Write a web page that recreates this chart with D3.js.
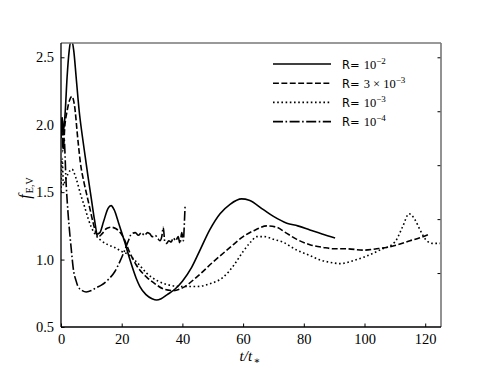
<!DOCTYPE html>
<html>
<head>
<meta charset="utf-8">
<script src="https://cdn.jsdelivr.net/npm/d3@7"></script>
<style>
  body { margin: 0; background: #fff; }
  .tick text { font-family: "Liberation Serif", "DejaVu Serif", serif; font-size: 14.5px; fill: #000; }
</style>
</head>
<body>
<svg id="vis" width="490" height="368"></svg>
<script>
// series: [t/t*, f_E,V]
var serR1e2 = [[0,1.9],[0.4,2.05],[0.8,1.95],[1.4,2.1],[2,2.35],[2.7,2.55],[3.4,2.63],[4.2,2.55],[5,2.35],[6,2.1],[7,1.92],[8,1.76],[9,1.6],[10,1.45],[11,1.3],[12,1.19],[12.8,1.2],[14,1.28],[15.5,1.38],[16.5,1.4],[17.5,1.37],[19,1.27],[20,1.2],[21,1.13],[22.7,1.0],[24.8,0.86],[26,0.8],[28,0.74],[30,0.71],[31.5,0.7],[33,0.71],[35,0.74],[37.5,0.78],[40,0.84],[43,0.94],[45.8,1.07],[49,1.22],[52.4,1.34],[55.7,1.41],[59.5,1.45],[62,1.44],[66.7,1.37],[70,1.32],[74.4,1.27],[78,1.25],[82,1.22],[86,1.19],[90.3,1.16]];
var serR3e3 = [[0,1.95],[0.4,2.05],[0.8,1.85],[1.3,2.0],[2,2.1],[2.8,2.18],[3.6,2.21],[4.4,2.15],[5.6,1.88],[6.5,1.7],[7.5,1.58],[8.5,1.48],[9.5,1.38],[10.5,1.28],[11.5,1.2],[12.3,1.17],[13.5,1.19],[15,1.23],[16.6,1.24],[18,1.23],[19.5,1.2],[20.4,1.17],[22.7,1.05],[24.8,0.96],[28.2,0.87],[31,0.82],[34,0.78],[37,0.77],[40,0.79],[44.7,0.87],[50,0.98],[55.7,1.09],[60,1.17],[64,1.22],[67.8,1.25],[71,1.24],[74,1.2],[77.7,1.15],[82,1.11],[86.4,1.09],[90,1.08],[94,1.08],[99.6,1.07],[104,1.08],[107.3,1.09],[111,1.11],[115,1.14],[118,1.16],[121.6,1.19]];
var serR1e3 = [[0,1.5],[0.4,1.75],[0.8,1.55],[1.3,1.58],[2.2,1.63],[3.6,1.67],[5,1.6],[6.5,1.48],[7.8,1.39],[9,1.3],[10,1.24],[11.5,1.18],[13.3,1.14],[15.5,1.11],[17.7,1.09],[20,1.06],[22,1.04],[25.4,0.97],[28.2,0.9],[32,0.84],[35.9,0.81],[40,0.8],[44.7,0.8],[49,0.82],[53.5,0.87],[57,0.96],[60,1.06],[62.5,1.13],[64.5,1.17],[67,1.17],[70,1.15],[73,1.13],[77.7,1.07],[82,1.03],[85,1.0],[88.6,0.98],[92,0.97],[96,0.99],[100,1.02],[105,1.07],[110,1.13],[112.5,1.24],[114.7,1.34],[116.5,1.3],[118.3,1.22],[120.5,1.14],[122.5,1.12],[124.9,1.12]];
var serR1e4 = [[0,1.95],[0.3,2.05],[0.6,1.8],[1,1.9],[1.7,1.56],[2.3,1.35],[2.9,1.19],[3.5,1.05],[4,0.94],[5,0.84],[5.6,0.8],[7,0.77],[8.3,0.76],[10,0.77],[11.5,0.79],[13.3,0.81],[15.5,0.85],[17.7,0.91],[19.5,0.99],[21,1.07],[22.2,1.14],[23.2,1.19],[24.5,1.2],[25.5,1.18],[26.5,1.2],[27.5,1.18],[28.5,1.2],[29.3,1.19],[30,1.17],[31,1.18],[31.8,1.16],[32.6,1.14],[33.2,1.17],[33.7,1.24],[34.2,1.13],[34.8,1.12],[35.5,1.14],[36.3,1.13],[37,1.16],[37.8,1.14],[38.6,1.17],[39.2,1.12],[39.8,1.2],[40.3,1.14],[40.7,1.3],[40.9,1.41]];

var xTicks = [0, 20, 40, 60, 80, 100, 120];
var yTicks = [0.5, 1.0, 1.5, 2.0, 2.5];
var yTicksRight = [0.9, 1.3, 1.7, 2.1, 2.5];
var legendMain = ["10", "3 \u00d7 10", "10", "10"];
var legendExp = ["\u22122", "\u22123", "\u22123", "\u22124"];

var svg = d3.select("#vis"),
  margin = {top: 43, right: 49, bottom: 41, left: 61},
  width = 490 - margin.left - margin.right,
  height = 368 - margin.top - margin.bottom;

var x = d3.scaleLinear().domain([0, 125.2]).range([0, width]);
var y = d3.scaleLinear().domain([0.5, 2.606]).range([height, 0]);

var g = svg.append("g").attr("transform", "translate(" + margin.left + "," + margin.top + ")");

svg.append("defs").append("clipPath").attr("id", "clip")
  .append("rect").attr("width", width).attr("height", height);

var serif = '"Liberation Serif", "DejaVu Serif", serif';

// axes, ticks inward
g.append("g").attr("transform", "translate(0," + height + ")")
  .call(d3.axisBottom(x).tickValues(xTicks).tickSizeInner(-3.5).tickSizeOuter(0).tickPadding(6.5).tickFormat(d3.format("d")))
  .call(function(a) { a.select(".domain").remove(); });
g.append("g")
  .call(d3.axisLeft(y).tickValues(yTicks).tickSizeInner(-3.5).tickSizeOuter(0).tickPadding(7).tickFormat(d3.format(".1f")))
  .call(function(a) { a.select(".domain").remove(); });
g.append("g").attr("transform", "translate(" + width + ",0)")
  .call(d3.axisRight(y).tickValues(yTicksRight).tickSizeInner(-3.5).tickSizeOuter(0).tickFormat(""))
  .call(function(a) { a.select(".domain").remove(); });

var line = d3.line()
  .x(function(d) { return x(d[0]); })
  .y(function(d) { return y(d[1]); })
  .curve(d3.curveMonotoneX);

var series = [
  {data: serR1e2, dash: null},
  {data: serR3e3, dash: "5.9,2.5"},
  {data: serR1e3, dash: "1.6,2.6"},
  {data: serR1e4, dash: "10,2.5,1.6,2.5"}
];

var plot = g.append("g").attr("clip-path", "url(#clip)");
series.forEach(function(s) {
  plot.append("path")
    .datum(s.data)
    .attr("d", line)
    .attr("fill", "none")
    .attr("stroke", "#000")
    .attr("stroke-width", 1.6)
    .attr("stroke-dasharray", s.dash);
});

// frame
g.append("line").attr("x1", 0).attr("x2", width).attr("y1", 0).attr("y2", 0).attr("stroke", "#777").attr("stroke-width", 1.3);
g.append("line").attr("x1", width).attr("x2", width).attr("y1", 0).attr("y2", height).attr("stroke", "#777").attr("stroke-width", 1.6);
g.append("line").attr("x1", 0).attr("x2", 0).attr("y1", 0).attr("y2", height).attr("stroke", "#000").attr("stroke-width", 1.3);
g.append("line").attr("x1", 0).attr("x2", width).attr("y1", height).attr("y2", height).attr("stroke", "#000").attr("stroke-width", 1.3);

// legend
var leg = svg.append("g").attr("transform", "translate(273,64)");
series.forEach(function(s, i) {
  var row = leg.append("g").attr("transform", "translate(0," + (i * 19.2) + ")");
  row.append("line").attr("x1", 0).attr("x2", 58).attr("y1", 0).attr("y2", 0)
    .attr("stroke", "#000").attr("stroke-width", 1.6).attr("stroke-dasharray", s.dash);
  var t = row.append("text").attr("x", 69).attr("y", 4.5).attr("font-size", "12.5px");
  t.append("tspan").attr("font-family", '"DejaVu Sans", sans-serif').attr("font-size", "11.5px").text("R=");
  t.append("tspan").attr("font-family", serif).attr("dx", 4).text(legendMain[i]);
  t.append("tspan").attr("font-family", serif).attr("font-size", "9px").attr("dy", -5).text(legendExp[i]);
});

// axis labels
svg.append("text").attr("x", 250).attr("y", 361).attr("text-anchor", "middle")
  .attr("font-family", serif).attr("font-size", "15px")
  .call(function(t) {
    t.append("tspan").attr("font-style", "italic").text("t/t");
    t.append("tspan").attr("dx", 1.5).attr("font-size", "10px").attr("dy", 3).text("\u2217");
  });

svg.append("text").attr("transform", "translate(30,188) rotate(-90)").attr("text-anchor", "middle")
  .attr("font-family", serif).attr("font-size", "16px")
  .call(function(t) {
    t.append("tspan").attr("font-style", "italic").text("f");
    t.append("tspan").attr("dx", 1).attr("font-size", "10px").attr("dy", 3).text("E,V");
  });
</script>
</body>
</html>
